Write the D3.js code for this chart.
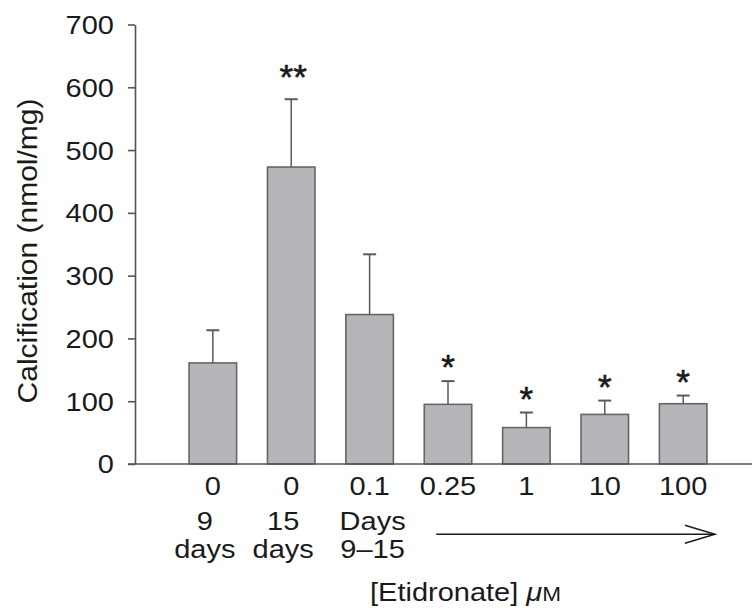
<!DOCTYPE html>
<html>
<head>
<meta charset="utf-8">
<script src="https://cdn.jsdelivr.net/npm/d3@7"></script>
<style>
  html, body { margin: 0; padding: 0; background: #fff; }
  svg { display: block; }
  text { font-family: "Liberation Sans", Arial, Helvetica, sans-serif; fill: #1a1a1a; }
</style>
</head>
<body>
<script>
// ---- data ----
const doseLabels = ["0", "0", "0.1", "0.25", "1", "10", "100"];
const subLabel1  = ["9", "15", "Days", "", "", "", ""];
const subLabel2  = ["days", "days", "9\u201315", "", "", "", ""];
const means      = [161, 473, 238, 95, 58, 79, 96];
const errors     = [52, 108, 96, 37, 24, 22, 13];
const significance = ["", "**", "", "*", "*", "*", "*"];
const yTicks     = [0, 100, 200, 300, 400, 500, 600, 700];
const yTitle     = "Calcification (nmol/mg)";

// ---- layout ----
const W = 752, H = 614;
const FS = 29, SY = 0.865;   // font size and vertical squash of the lettering

const svg = d3.select("body").append("svg").attr("width", W).attr("height", H);

const x = d3.scaleBand().domain(d3.range(means.length))
  .range([135, 761]).paddingInner(0.394).paddingOuter(0.69);
const y = d3.scaleLinear().domain([0, 700]).range([464, 24.5]);

function label(px, py, str, anchor, size, sy, rot) {
  const g = svg.append("g")
    .attr("transform", `translate(${px},${py})` + (rot ? ` rotate(${rot})` : "") + ` scale(1,${sy})`);
  return g.append("text").attr("text-anchor", anchor || "middle")
    .attr("font-size", size).text(str);
}

// bars
svg.append("g").selectAll("rect").data(means).join("rect")
  .attr("x", (d, i) => x(i)).attr("width", x.bandwidth())
  .attr("y", d => y(d)).attr("height", d => y(0) - y(d))
  .attr("fill", "#b5b6b9").attr("stroke", "#666").attr("stroke-width", 1.6);

// error bars (upper only)
const eb = svg.append("g").attr("stroke", "#5a5a5a").attr("stroke-width", 1.5);
means.forEach((m, i) => {
  const cx = x(i) + x.bandwidth() / 2;
  eb.append("line").attr("x1", cx).attr("x2", cx).attr("y1", y(m)).attr("y2", y(m + errors[i]));
  eb.append("line").attr("x1", cx - 6.5).attr("x2", cx + 6.5)
    .attr("y1", y(m + errors[i])).attr("y2", y(m + errors[i])).attr("stroke-width", 2);
});

// significance marks
significance.forEach((s, i) => {
  if (!s) return;
  const cx = x(i) + x.bandwidth() / 2;
  const gap = s === "**" ? 10 : 2;
  label(cx + (s === "**" ? 2 : 0), y(means[i] + errors[i]) - gap, s, "middle", 35, 1)
    .attr("stroke", "#1a1a1a").attr("stroke-width", 0.6);
});

// y axis
const yAxis = svg.append("g").attr("transform", "translate(135,0)")
  .call(d3.axisLeft(y).tickValues(yTicks).tickSize(7).tickSizeOuter(0).tickPadding(0));
yAxis.select(".domain").attr("stroke", "#555").attr("stroke-width", 1.6);
yAxis.selectAll(".tick line").attr("stroke", "#555").attr("stroke-width", 1.6);
yAxis.selectAll(".tick text")
  .attr("x", 0).attr("dy", "0.358em")
  .attr("transform", `translate(-21,0) scale(1,${SY})`)
  .attr("font-size", FS).attr("font-family", "Liberation Sans, Arial, sans-serif")
  .attr("fill", "#1a1a1a");

// x axis baseline
svg.append("line").attr("x1", 128).attr("x2", W).attr("y1", y(0)).attr("y2", y(0))
  .attr("stroke", "#555").attr("stroke-width", 1.6);

// category labels
doseLabels.forEach((t, i) => {
  const cx = x(i) + x.bandwidth() / 2;
  label(cx, 495, t, "middle", FS, SY);
  if (subLabel1[i]) label(cx - (i === 2 ? -3 : 8), 530, subLabel1[i], "middle", FS, SY);
  if (subLabel2[i]) label(cx - (i === 2 ? -3 : 8), 558, subLabel2[i], "middle", FS, SY);
});

// arrow
const ax0 = x(3) + 12, ax1 = x(6) + x.bandwidth() + 8, ay = 534.3;
const ag = svg.append("g").attr("stroke", "#1a1a1a").attr("stroke-width", 1.5).attr("fill", "none");
ag.append("line").attr("x1", ax0).attr("x2", ax1).attr("y1", ay).attr("y2", ay);
ag.append("path").attr("d", `M${ax1 - 30},${ay - 9}L${ax1},${ay}L${ax1 - 30},${ay + 9}`);

// x title
const xt = label(370, 600.5, "[Etidronate] ", "start", FS, SY);
xt.append("tspan").attr("font-style", "italic").text("\u03bc");
xt.append("tspan").attr("font-size", FS * 0.78).text("M");

// y title
label(37, 251, yTitle, "middle", 30, 0.9, -90);
</script>
</body>
</html>
